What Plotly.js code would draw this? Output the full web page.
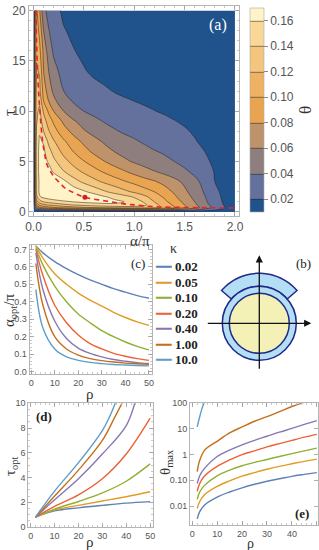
<!DOCTYPE html>
<html>
<head>
<meta charset="utf-8">
<script src="https://cdn.plot.ly/plotly-3.0.1.min.js"></script>
<style>html,body{margin:0;padding:0;background:#fff;}#chart{width:319px;height:550px;}</style>
</head>
<body>
<div id="chart"></div>
<script>
// ---------- Panel (a): theta(alpha/pi, tau) ----------
const alphaGrid = [0, 0.01, 0.03, 0.06, 0.1, 0.15, 0.2, 0.3, 0.4, 0.5, 0.6, 0.7, 0.8, 0.9, 1.0, 1.1, 1.2, 1.3, 1.4, 1.5, 1.6, 1.7, 1.8, 1.9, 2.0];
const tauGrid = [0, 0.2, 0.45, 0.7, 1, 1.5, 2, 3, 4, 5, 6, 7, 8, 9, 10, 11, 12, 14, 16, 18, 20];
const thetaGrid = [
 [0,0,0,0,0,0,0,0,0,0,0,0,0,0,0,0,0,0,0,0,0,0,0,0,0],
 [0,0.012,0.025,0.033,0.038,0.042,0.045,0.049,0.052,0.055,0.057,0.059,0.06,0.061,0.062,0.062,0.061,0.058,0.053,0.047,0.04,0.031,0.021,0.013,0.008],
 [0,0.03,0.06,0.077,0.088,0.095,0.1,0.108,0.114,0.119,0.123,0.126,0.129,0.131,0.132,0.132,0.129,0.115,0.1,0.084,0.068,0.051,0.034,0.02,0.012],
 [0,0.045,0.085,0.105,0.115,0.122,0.127,0.135,0.141,0.146,0.15,0.153,0.155,0.156,0.153,0.144,0.126,0.111,0.096,0.08,0.064,0.047,0.031,0.018,0.011],
 [0,0.06,0.11,0.13,0.14,0.146,0.15,0.156,0.16,0.164,0.166,0.167,0.165,0.16,0.151,0.138,0.12,0.105,0.09,0.075,0.06,0.044,0.028,0.017,0.011],
 [0,0.075,0.135,0.158,0.165,0.17,0.173,0.177,0.178,0.179,0.172,0.162,0.155,0.147,0.138,0.125,0.11,0.097,0.083,0.069,0.055,0.041,0.026,0.016,0.011],
 [0,0.085,0.145,0.164,0.167,0.169,0.172,0.176,0.172,0.163,0.153,0.143,0.134,0.125,0.117,0.108,0.1,0.089,0.077,0.064,0.051,0.038,0.024,0.015,0.011],
 [0,0.085,0.148,0.163,0.166,0.171,0.173,0.165,0.148,0.136,0.126,0.117,0.109,0.102,0.095,0.088,0.082,0.074,0.066,0.056,0.045,0.034,0.02,0.015,0.011],
 [0,0.088,0.15,0.165,0.167,0.167,0.158,0.141,0.128,0.117,0.107,0.098,0.09,0.082,0.074,0.067,0.061,0.055,0.049,0.043,0.036,0.028,0.019,0.014,0.011],
 [0,0.09,0.15,0.165,0.166,0.158,0.145,0.127,0.113,0.101,0.091,0.081,0.072,0.064,0.058,0.053,0.048,0.044,0.04,0.035,0.029,0.023,0.017,0.013,0.01],
 [0,0.09,0.15,0.165,0.164,0.148,0.133,0.114,0.099,0.087,0.076,0.067,0.06,0.054,0.049,0.045,0.041,0.038,0.034,0.03,0.025,0.02,0.015,0.012,0.01],
 [0,0.087,0.148,0.163,0.158,0.135,0.122,0.103,0.088,0.076,0.066,0.058,0.051,0.046,0.042,0.038,0.034,0.031,0.028,0.025,0.021,0.017,0.0135,0.0112,0.0098],
 [0,0.085,0.143,0.158,0.14,0.122,0.108,0.088,0.074,0.062,0.054,0.048,0.042,0.038,0.035,0.032,0.029,0.0265,0.024,0.0215,0.0185,0.0155,0.013,0.011,0.0098],
 [0,0.082,0.138,0.15,0.13,0.11,0.097,0.076,0.062,0.052,0.045,0.039,0.035,0.032,0.0295,0.027,0.0247,0.0225,0.0204,0.0183,0.0162,0.0142,0.0123,0.0108,0.0097],
 [0,0.08,0.135,0.145,0.117,0.097,0.08,0.06,0.048,0.04,0.035,0.031,0.028,0.0258,0.0238,0.0219,0.0203,0.0187,0.0171,0.0155,0.014,0.0125,0.0111,0.0099,0.0089],
 [0,0.077,0.133,0.135,0.1,0.08,0.065,0.047,0.038,0.032,0.028,0.0255,0.0233,0.0215,0.02,0.0186,0.0173,0.016,0.0147,0.0135,0.0124,0.0114,0.0104,0.0096,0.0088],
 [0,0.075,0.13,0.125,0.092,0.07,0.056,0.04,0.033,0.028,0.0245,0.022,0.0195,0.0178,0.0165,0.0153,0.0143,0.0134,0.0126,0.0118,0.011,0.0102,0.0095,0.0088,0.008],
 [0,0.072,0.122,0.118,0.08,0.06,0.046,0.033,0.026,0.021,0.0175,0.0155,0.014,0.0133,0.0127,0.012,0.0113,0.0107,0.01,0.0095,0.009,0.0085,0.008,0.0075,0.007],
 [0,0.07,0.117,0.105,0.075,0.05,0.037,0.027,0.0205,0.017,0.0145,0.013,0.012,0.0115,0.011,0.0105,0.01,0.0095,0.009,0.0085,0.008,0.0075,0.007,0.0065,0.006],
 [0,0.065,0.11,0.095,0.06,0.041,0.032,0.021,0.017,0.014,0.0125,0.0115,0.011,0.0105,0.01,0.0095,0.009,0.0085,0.008,0.0075,0.007,0.0065,0.006,0.0055,0.005],
 [0,0.06,0.104,0.082,0.045,0.034,0.026,0.017,0.014,0.012,0.011,0.01,0.0095,0.009,0.0085,0.008,0.0075,0.007,0.0065,0.006,0.0055,0.005,0.0045,0.004,0.004]
];
const thetaLevels = [0.02, 0.04, 0.06, 0.08, 0.10, 0.12, 0.14, 0.16];
const bandColors = ['#20528C','#63719C','#8E7F7E','#BE926A','#E8A450','#EFB263','#F4C57D','#F9D897','#FFF3C7'];
// optimal-tau ridge (red dashed) and maximum point
const ridgeAlpha = [0.025, 0.03, 0.04, 0.05, 0.06, 0.075, 0.09, 0.11, 0.13, 0.17, 0.21, 0.26, 0.31, 0.4, 0.51, 0.65, 0.77, 0.9, 1.0, 1.1, 1.25, 1.5, 1.75, 2.0];
const ridgeTau   = [20, 17, 14, 12, 10.5, 8.5, 7, 5.8, 4.8, 4.0, 3.4, 2.9, 2.4, 1.9, 1.46, 1.2, 1.0, 0.8, 0.7, 0.6, 0.5, 0.45, 0.42, 0.4];
const maxAlpha = [0.51], maxTau = [1.46];

// ---------- Panels (c), (d), (e) ----------
const kappaLabels = ['0.02', '0.05', '0.10', '0.20', '0.40', '1.00', '10.0'];
const kappaColors = ['#5E81B5', '#E19C24', '#8FB032', '#EB6235', '#8778B3', '#C56E1A', '#5D9EC7'];
const rhoC = [2, 5, 10, 15, 20, 25, 30, 35, 40, 45, 50];
const alphaOpt = [
 [0.72, 0.68, 0.63, 0.59, 0.555, 0.525, 0.5, 0.475, 0.455, 0.435, 0.42],
 [0.72, 0.65, 0.56, 0.5, 0.45, 0.41, 0.375, 0.34, 0.31, 0.285, 0.265],
 [0.71, 0.61, 0.49, 0.4, 0.33, 0.28, 0.235, 0.2, 0.17, 0.145, 0.125],
 [0.70, 0.55, 0.38, 0.28, 0.21, 0.16, 0.13, 0.105, 0.088, 0.075, 0.065],
 [0.68, 0.47, 0.29, 0.19, 0.135, 0.105, 0.085, 0.07, 0.06, 0.052, 0.047],
 [0.62, 0.38, 0.2, 0.13, 0.095, 0.075, 0.063, 0.055, 0.049, 0.045, 0.042],
 [0.47, 0.25, 0.13, 0.085, 0.065, 0.053, 0.046, 0.041, 0.038, 0.035, 0.033]
];
const rhoD = [
 [2, 10, 20, 30, 40, 50],
 [2, 10, 20, 30, 40, 50],
 [2, 10, 20, 30, 40, 50],
 [2, 10, 20, 30, 40, 50],
 [2, 10, 20, 30, 40, 44],
 [2, 10, 20, 30, 35, 39],
 [2, 10, 20, 30, 33, 36]
];
const tauOpt = [
 [0.8, 1.3, 1.55, 1.75, 1.93, 2.05],
 [0.8, 1.38, 1.75, 2.1, 2.45, 2.85],
 [0.8, 1.45, 2.06, 2.75, 3.7, 5.1],
 [0.8, 1.67, 2.6, 3.9, 5.9, 8.8],
 [0.8, 2.2, 3.9, 5.9, 8.2, 10.3],
 [0.8, 2.5, 4.6, 7.0, 8.8, 10.3],
 [0.8, 2.9, 5.2, 7.8, 8.9, 10.3]
];
const rhoE = [2, 3, 5, 10, 15, 20, 25, 30, 35, 40, 45, 50];
const thetaMax = [
 [0.0032, 0.006, 0.011, 0.022, 0.035, 0.051, 0.07, 0.092, 0.115, 0.143, 0.17, 0.2],
 [0.008, 0.015, 0.028, 0.058, 0.095, 0.145, 0.2, 0.27, 0.35, 0.44, 0.55, 0.67],
 [0.018, 0.035, 0.065, 0.15, 0.25, 0.37, 0.5, 0.65, 0.85, 1.1, 1.4, 1.8],
 [0.037, 0.075, 0.15, 0.35, 0.62, 1.0, 1.4, 2.0, 2.7, 3.6, 4.8, 6.2],
 [0.075, 0.15, 0.3, 0.85, 1.5, 2.4, 3.6, 5.2, 7.5, 10.5, 15, 21],
 [0.22, 0.6, 1.5, 3.3, 7, 12, 20, 30, 47, 75, 110, 150],
 [12, 30, 110, 300, 600, 900, 1200, 1500, 1800, 2100, 2400, 2700]
];

// ---------- helpers ----------
const W = 319, H = 550;
const px = v => v / W;
const py = v => 1 - v / H;
const tickFont = s => ({family: 'Liberation Sans, Arial, sans-serif', size: s, color: '#555'});
const serif = (s, c) => ({family: 'Liberation Serif, Times New Roman, serif', size: s, color: c || '#333'});
function frameAxis(extra) {
  return Object.assign({
    showline: true, linecolor: '#b5b5b5', linewidth: 1, mirror: 'ticks',
    ticks: 'inside', ticklen: 4, tickcolor: '#9a9a9a', tickwidth: 0.8,
    showgrid: false, zeroline: false, fixedrange: true
  }, extra);
}

const traces = [];
// (a) contour
const cscale = bandColors.map((c, i) => [i / (bandColors.length - 1), c]);
traces.push({
  type: 'contour', x: alphaGrid, y: tauGrid, z: thetaGrid,
  xaxis: 'x', yaxis: 'y', autocontour: false,
  contours: {start: thetaLevels[0], end: thetaLevels[thetaLevels.length - 1], size: 0.02, coloring: 'fill'},
  colorscale: cscale,
  line: {color: 'rgba(35,30,30,0.85)', width: 0.6, smoothing: 1},
  hoverinfo: 'skip', showlegend: false,
  colorbar: {
    x: px(250), xanchor: 'left', y: py(110), yanchor: 'middle',
    len: 204 / H, lenmode: 'fraction', thickness: 14, xpad: 0, ypad: 0,
    outlinewidth: 0.6, outlinecolor: '#aaa',
    tickvals: thetaLevels, ticktext: thetaLevels.map(v => v.toFixed(2)),
    ticks: 'outside', ticklen: 4, tickcolor: '#888', tickfont: tickFont(12),
    title: {text: 'θ', side: 'right', font: serif(17, '#333')}
  }
});
traces.push({type: 'scatter', mode: 'lines', x: ridgeAlpha, y: ridgeTau, xaxis: 'x', yaxis: 'y',
  line: {color: '#E8232A', width: 1.6, dash: '5px,4px', shape: 'spline'}, hoverinfo: 'skip', showlegend: false});
traces.push({type: 'scatter', mode: 'markers', x: maxAlpha, y: maxTau, xaxis: 'x', yaxis: 'y',
  marker: {color: '#D0202A', size: 5}, hoverinfo: 'skip', showlegend: false});

// (c), (d), (e)
for (let k = 0; k < kappaLabels.length; k++) {
  traces.push({type: 'scatter', mode: 'lines', x: rhoC, y: alphaOpt[k], xaxis: 'x2', yaxis: 'y2',
    name: kappaLabels[k], line: {color: kappaColors[k], width: 1.4, shape: 'spline'}, showlegend: false, hoverinfo: 'skip'});
}
for (let k = 0; k < kappaLabels.length; k++) {
  traces.push({type: 'scatter', mode: 'lines', x: rhoD[k], y: tauOpt[k], xaxis: 'x3', yaxis: 'y3',
    name: kappaLabels[k], line: {color: kappaColors[k], width: 1.4, shape: 'spline'}, showlegend: false, hoverinfo: 'skip'});
}
for (let k = 0; k < kappaLabels.length; k++) {
  traces.push({type: 'scatter', mode: 'lines', x: rhoE, y: thetaMax[k], xaxis: 'x4', yaxis: 'y4',
    name: kappaLabels[k], line: {color: kappaColors[k], width: 1.4, shape: 'spline'}, showlegend: false, hoverinfo: 'skip'});
}

// (b) diagram geometry (illustration, 1 unit = 1 px)
const rIn = 30, rRing = 37, rSector = 50, angA = 41, angB = 139;
function sectorPath() {
  const pts = [];
  for (let a = angA; a <= angB; a += 4) pts.push([rSector * Math.cos(a * Math.PI / 180), rSector * Math.sin(a * Math.PI / 180)]);
  pts.push([rSector * Math.cos(angB * Math.PI / 180), rSector * Math.sin(angB * Math.PI / 180)]);
  for (let a = angB; a >= angA; a -= 4) pts.push([rRing * Math.cos(a * Math.PI / 180), rRing * Math.sin(a * Math.PI / 180)]);
  pts.push([rRing * Math.cos(angA * Math.PI / 180), rRing * Math.sin(angA * Math.PI / 180)]);
  return 'M' + pts.map(p => p[0].toFixed(2) + ',' + p[1].toFixed(2)).join(' L') + ' Z';
}
const navy = '#1F2A8A';
const shapes = [
  {type: 'path', xref: 'x5', yref: 'y5', path: sectorPath(), fillcolor: '#B4DEF5', line: {color: navy, width: 1.5}},
  {type: 'circle', xref: 'x5', yref: 'y5', x0: -rRing, x1: rRing, y0: -rRing, y1: rRing, fillcolor: '#B4DEF5', line: {color: navy, width: 1.5}},
  {type: 'circle', xref: 'x5', yref: 'y5', x0: -rIn, x1: rIn, y0: -rIn, y1: rIn, fillcolor: '#F3F1B6', line: {color: navy, width: 1.5}}
];

const note = (x, y, text, font, extra) => Object.assign({xref: 'paper', yref: 'paper', x: px(x), y: py(y), xanchor: 'center', yanchor: 'middle', text: text, showarrow: false, font: font}, extra || {});
const annotations = [
  {xref: 'x5', yref: 'y5', axref: 'x5', ayref: 'y5', x: 0, y: 68, ax: 0, ay: -47, text: '', showarrow: true, arrowhead: 2, arrowsize: 1.1, arrowwidth: 1.3, arrowcolor: '#111'},
  {xref: 'x5', yref: 'y5', axref: 'x5', ayref: 'y5', x: 52, y: 0, ax: -53, ay: 0, text: '', showarrow: true, arrowhead: 2, arrowsize: 1.1, arrowwidth: 1.3, arrowcolor: '#111'},
  // panel labels
  note(218, 25, '(a)', serif(16, '#fff')),
  note(303, 263, '(b)', serif(13, '#222')),
  note(138, 263, '(c)', serif(13, '#222')),
  note(44, 416, '(d)', Object.assign(serif(13, '#222'), {weight: 'bold'})),
  note(302, 513, '(e)', Object.assign(serif(13, '#222'), {weight: 'bold'})),
  // axis titles
  note(140, 241, 'α/π', serif(15)),
  note(10, 112, 'τ', serif(17), {textangle: -90}),
  note(90, 394, 'ρ', serif(15)),
  note(10, 310, 'α<sub>opt</sub>/π', serif(15), {textangle: -90}),
  note(90, 542, 'ρ', serif(15)),
  note(11, 466, 'τ<sub>opt</sub>', serif(15), {textangle: -90}),
  note(250, 543, 'ρ', serif(14)),
  note(166, 462, 'θ<sub>max</sub>', serif(15), {textangle: -90}),
  // kappa legend title
  note(173, 249, 'κ', serif(14, '#333'))
];
kappaLabels.forEach((lab, k) => {
  annotations.push(note(153, 266.7 + k * 15.5,
    '<span style="color:' + kappaColors[k] + ';font-family:DejaVu Sans">━━</span> <b>' + lab + '</b>',
    serif(13, '#222'), {xanchor: 'left'}));
});

const layout = {
  width: W, height: H, margin: {l: 0, r: 0, t: 0, b: 0},
  paper_bgcolor: '#fff', plot_bgcolor: '#fff', showlegend: false,
  // (a)
  xaxis: frameAxis({domain: [px(29), px(239)], range: [-0.045, 2.04], tickvals: [0, 0.5, 1, 1.5, 2], ticktext: ['0.0', '0.5', '1.0', '1.5', '2.0'],
    tickfont: tickFont(12), minor: {ticks: 'inside', ticklen: 2, dtick: 0.1, tickcolor: '#bbb'}, anchor: 'y'}),
  yaxis: frameAxis({domain: [py(216), py(6)], range: [-0.4, 20.45], tickvals: [0, 5, 10, 15, 20],
    tickfont: tickFont(12), minor: {ticks: 'inside', ticklen: 2, dtick: 1, tickcolor: '#bbb'}, anchor: 'x'}),
  // (c)
  xaxis2: frameAxis({domain: [px(29.5), px(152)], range: [-0.7, 51.3], tickvals: [0, 10, 20, 30, 40, 50], tickfont: tickFont(9),
    minor: {ticks: 'inside', ticklen: 2, dtick: 2, tickcolor: '#bbb'}, anchor: 'y2'}),
  yaxis2: frameAxis({domain: [py(374.3), py(245)], range: [-0.015, 0.725], tickvals: [0, 0.1, 0.2, 0.3, 0.4, 0.5, 0.6, 0.7], tickformat: '.1f', tickfont: tickFont(9),
    minor: {ticks: 'inside', ticklen: 2, dtick: 0.02, tickcolor: '#bbb'}, anchor: 'x2'}),
  // (d)
  xaxis3: frameAxis({domain: [px(28.3), px(153)], range: [-1, 51.2], tickvals: [0, 10, 20, 30, 40, 50], tickfont: tickFont(9),
    minor: {ticks: 'inside', ticklen: 2, dtick: 2, tickcolor: '#bbb'}, anchor: 'y3'}),
  yaxis3: frameAxis({domain: [py(527), py(403.3)], range: [0, 10], tickvals: [0, 2, 4, 6, 8, 10], tickfont: tickFont(9),
    minor: {ticks: 'inside', ticklen: 2, dtick: 0.5, tickcolor: '#bbb'}, anchor: 'x3'}),
  // (e)
  xaxis4: frameAxis({domain: [px(190), px(318.3)], range: [-0.9, 50.6], tickvals: [0, 10, 20, 30, 40, 50], tickfont: tickFont(9),
    minor: {ticks: 'inside', ticklen: 2, dtick: 2, tickcolor: '#bbb'}, anchor: 'y4'}),
  yaxis4: frameAxis({domain: [py(525), py(403.3)], type: 'log', range: [-2.74, 2], tickvals: [0.01, 0.1, 1, 10, 100], ticktext: ['0.01', '0.10', '1', '10', '100'], tickfont: tickFont(9), anchor: 'x4'}),
  // (b) diagram frame (hidden)
  xaxis5: {domain: [px(200), px(319)], range: [-59.3, 59.7], visible: false, fixedrange: true, anchor: 'y5'},
  yaxis5: {domain: [py(375), py(245)], range: [-51.7, 78.3], visible: false, fixedrange: true, anchor: 'x5'},
  shapes: shapes,
  annotations: annotations
};

Plotly.newPlot('chart', traces, layout, {displayModeBar: false, staticPlot: true});
</script>
</body>
</html>
